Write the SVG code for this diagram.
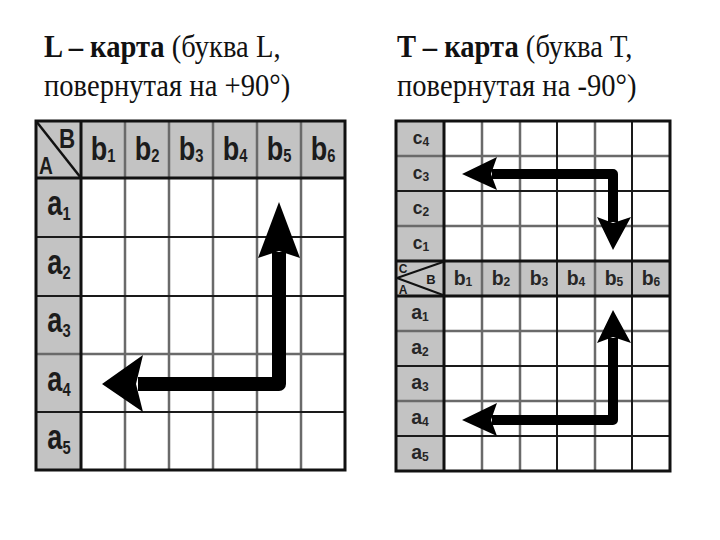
<svg xmlns="http://www.w3.org/2000/svg" width="720" height="540" viewBox="0 0 720 540">
<style>
.title{font-family:"Liberation Serif","Times New Roman",serif;font-size:28.6px;fill:#111}
.b{font-weight:bold}
.hdr{fill:#c3c3c3}
.out{fill:none;stroke:#111;stroke-width:3}
.bk{stroke:#1a1a1a;stroke-width:2}
.gr{stroke:#6a6a6a;stroke-width:2.5}
.lbl{font-family:"Liberation Sans Narrow","Liberation Sans",Arial,sans-serif;font-weight:bold;fill:#1c1c1c;text-anchor:middle}
.L{font-size:33px}
.Ls{font-size:18px}
.R{font-size:19.5px;fill:#262626}
.Rc{font-size:17.5px;fill:#262626}
.Rs{font-size:12px}
.shaft{fill:none;stroke:#000;stroke-linejoin:round}
</style>

<g id="title-left">
<text class="title" transform="translate(44,57) scale(1,1.12)"><tspan class="b">L – карта</tspan> (буква L,</text>
<text class="title" transform="translate(44,96) scale(1,1.12)">повернутая на +90°)</text>
</g>
<g id="title-right">
<text class="title" transform="translate(397,57) scale(1,1.12)"><tspan class="b">T – карта</tspan> (буква T,</text>
<text class="title" transform="translate(397,96) scale(1,1.12)">повернутая на -90°)</text>
</g>

<g id="grid-left">
<rect x="36" y="121" width="309" height="349" fill="#fff"/>
<rect class="hdr" x="36" y="121" width="309" height="57"/>
<rect class="hdr" x="36" y="178" width="45" height="292"/>
<g class="gr">
<line x1="125" y1="121" x2="125" y2="470"/>
<line x1="169" y1="121" x2="169" y2="470"/>
<line x1="213" y1="121" x2="213" y2="470"/>
<line x1="257" y1="121" x2="257" y2="470"/>
<line x1="301" y1="121" x2="301" y2="470"/>
<line x1="36" y1="354" x2="345" y2="354"/>
</g>
<g class="bk">
<line x1="36" y1="237" x2="345" y2="237"/>
<line x1="36" y1="296" x2="345" y2="296"/>
<line x1="36" y1="412" x2="345" y2="412"/>
</g>
<line x1="81" y1="121" x2="81" y2="470" stroke="#111" stroke-width="3"/>
<line x1="36" y1="178" x2="345" y2="178" stroke="#111" stroke-width="3"/>
<line x1="36" y1="121" x2="81" y2="178" stroke="#111" stroke-width="2.5"/>
<rect class="out" x="36" y="121" width="309" height="349"/>
<text class="lbl" transform="translate(67,148) scale(0.8,1)" font-size="28">B</text>
<text class="lbl" transform="translate(46,174) scale(0.8,1)" font-size="24">A</text>
<text class="lbl L" transform="translate(103,160) scale(0.82,1)">b<tspan class="Ls" dy="2">1</tspan></text>
<text class="lbl L" transform="translate(147,160) scale(0.82,1)">b<tspan class="Ls" dy="2">2</tspan></text>
<text class="lbl L" transform="translate(191,160) scale(0.82,1)">b<tspan class="Ls" dy="2">3</tspan></text>
<text class="lbl L" transform="translate(235,160) scale(0.82,1)">b<tspan class="Ls" dy="2">4</tspan></text>
<text class="lbl L" transform="translate(279,160) scale(0.82,1)">b<tspan class="Ls" dy="2">5</tspan></text>
<text class="lbl L" transform="translate(323,160) scale(0.82,1)">b<tspan class="Ls" dy="2">6</tspan></text>
<text class="lbl L" transform="translate(59,215) scale(0.82,1.05)">a<tspan class="Ls" dy="5">1</tspan></text>
<text class="lbl L" transform="translate(59,274) scale(0.82,1.05)">a<tspan class="Ls" dy="5">2</tspan></text>
<text class="lbl L" transform="translate(59,332) scale(0.82,1.05)">a<tspan class="Ls" dy="5">3</tspan></text>
<text class="lbl L" transform="translate(59,391) scale(0.82,1.05)">a<tspan class="Ls" dy="5">4</tspan></text>
<text class="lbl L" transform="translate(59,449) scale(0.82,1.05)">a<tspan class="Ls" dy="5">5</tspan></text>
</g>

<g id="grid-right">
<rect x="396" y="121" width="274" height="350" fill="#fff"/>
<rect class="hdr" x="396" y="121" width="48" height="350"/>
<rect class="hdr" x="396" y="261" width="274" height="35"/>
<g class="gr">
<line x1="482" y1="121" x2="482" y2="471"/>
<line x1="520" y1="121" x2="520" y2="471"/>
<line x1="595" y1="121" x2="595" y2="471"/>
<line x1="396" y1="156" x2="670" y2="156"/>
<line x1="396" y1="226" x2="670" y2="226"/>
<line x1="396" y1="331" x2="670" y2="331"/>
<line x1="396" y1="401" x2="670" y2="401"/>
</g>
<g class="bk">
<line x1="557" y1="121" x2="557" y2="471"/>
<line x1="632" y1="121" x2="632" y2="471"/>
<line x1="396" y1="191" x2="670" y2="191"/>
<line x1="396" y1="366" x2="670" y2="366"/>
<line x1="396" y1="436" x2="670" y2="436"/>
</g>
<line x1="444" y1="121" x2="444" y2="471" stroke="#111" stroke-width="3"/>
<line x1="396" y1="261" x2="670" y2="261" stroke="#111" stroke-width="3"/>
<line x1="396" y1="296" x2="670" y2="296" stroke="#111" stroke-width="3"/>
<line x1="397" y1="278" x2="443" y2="262" stroke="#111" stroke-width="2"/>
<line x1="397" y1="278" x2="443" y2="295" stroke="#111" stroke-width="2"/>
<rect class="out" x="396" y="121" width="274" height="350"/>
<text class="lbl" x="403" y="273" font-size="12" fill="#262626">C</text>
<text class="lbl" x="431" y="284" font-size="13" fill="#262626">B</text>
<text class="lbl" x="403" y="294" font-size="12" fill="#262626">A</text>
<text class="lbl Rc" x="421" y="144">c<tspan class="Rs" dy="2">4</tspan></text>
<text class="lbl Rc" x="421" y="179">c<tspan class="Rs" dy="2">3</tspan></text>
<text class="lbl Rc" x="421" y="214">c<tspan class="Rs" dy="2">2</tspan></text>
<text class="lbl Rc" x="421" y="249">c<tspan class="Rs" dy="2">1</tspan></text>
<text class="lbl R" x="463" y="285">b<tspan class="Rs" dy="1">1</tspan></text>
<text class="lbl R" x="501" y="285">b<tspan class="Rs" dy="1">2</tspan></text>
<text class="lbl R" x="539" y="285">b<tspan class="Rs" dy="1">3</tspan></text>
<text class="lbl R" x="576" y="285">b<tspan class="Rs" dy="1">4</tspan></text>
<text class="lbl R" x="614" y="285">b<tspan class="Rs" dy="1">5</tspan></text>
<text class="lbl R" x="651" y="285">b<tspan class="Rs" dy="1">6</tspan></text>
<text class="lbl R" x="420" y="319">a<tspan class="Rs" dy="2">1</tspan></text>
<text class="lbl R" x="420" y="354">a<tspan class="Rs" dy="2">2</tspan></text>
<text class="lbl R" x="420" y="389">a<tspan class="Rs" dy="2">3</tspan></text>
<text class="lbl R" x="420" y="424">a<tspan class="Rs" dy="2">4</tspan></text>
<text class="lbl R" x="420" y="459">a<tspan class="Rs" dy="2">5</tspan></text>
</g>

<g id="connectors">
<path class="shaft" stroke-width="14" d="M279,252 V384 H138"/>
<polygon points="279,202 300,258 279,251 258,258" fill="#000"/>
<polygon points="102,384 143,355 136,384 143,412" fill="#000"/>
<path class="shaft" stroke-width="10" d="M492,174 H613 V222"/>
<polygon points="462,174 497,157 491,174 497,190" fill="#000"/>
<polygon points="613,250 631,217 613,223 597,217" fill="#000"/>
<path class="shaft" stroke-width="10" d="M613,338 V420 H492"/>
<polygon points="613,310 631,343 613,337 597,343" fill="#000"/>
<polygon points="462,420 497,403 491,420 497,436" fill="#000"/>
</g>
</svg>
